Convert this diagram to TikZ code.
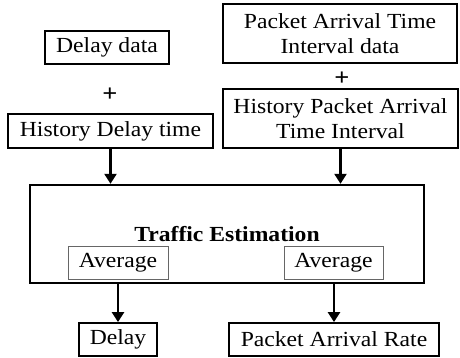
\documentclass[tikz,border=0pt]{standalone}
\usepackage{fontspec}
\setmainfont{Liberation Serif}[FakeStretch=1.1]
\usetikzlibrary{arrows.meta}
\begin{document}
\begin{tikzpicture}[x=1pt, y=-1pt]
	\tikzset{
		io box/.style={rectangle, draw, line width=1.8pt, inner sep=0pt, align=center, font=\fontsize{21.5}{25}\selectfont},
		avg box/.style={rectangle, draw=black!60, line width=1pt, inner sep=0pt, font=\fontsize{21.5}{25}\selectfont},
		est box/.style={rectangle, draw, line width=2.4pt, inner sep=0pt, font=\bfseries\fontsize{21.5}{25}\selectfont},
		plus/.style={font=\bfseries\fontsize{24}{25}\selectfont, inner sep=0pt},
		flow/.style={-{Triangle[width=12pt,length=10pt]}, line width=2.4pt}
	}
	\useasboundingbox (0,0) rectangle (460,358);
	% Delay inputs
	\node (delaydata) at (107,47.5) [io box, minimum width=124pt, minimum height=33pt] {Delay data};
	\node (plusa) at (110,95) [plus] {+};
	\node (histdelay) at (110.5,131) [io box, minimum width=205pt, minimum height=34pt] {History Delay time};
	% Packet arrival inputs
	\node (pktdata) at (340,33.5) [io box, minimum width=234pt, minimum height=59pt] {Packet Arrival Time\\Interval data};
	\node (plusb) at (342,79) [plus] {+};
	\node (histpkt) at (340.5,118.5) [io box, minimum width=235pt, minimum height=59pt] {History Packet Arrival\\Time Interval};
	% Estimation block
	\node (est) at (227,234) [est box, minimum width=394pt, minimum height=98pt] {Traffic Estimation};
	\node (avga) at (118,262.5) [avg box, minimum width=100pt, minimum height=33pt] {Average};
	\node (avgb) at (333.5,262.5) [avg box, minimum width=99pt, minimum height=33pt] {Average};
	% Outputs
	\node (delay) at (118,339.5) [io box, minimum width=78pt, minimum height=33pt] {Delay};
	\node (rate) at (334,339.5) [io box, minimum width=210pt, minimum height=33pt] {Packet Arrival Rate};
	
	\draw[flow] (histdelay.south) -- (histdelay.south |- est.north);
	\draw[flow] (histpkt.south) -- (histpkt.south |- est.north);
	\draw[flow] (delay.north |- est.south) -- (delay.north);
	\draw[flow] (rate.north |- est.south) -- (rate.north);
\end{tikzpicture}
\end{document}
